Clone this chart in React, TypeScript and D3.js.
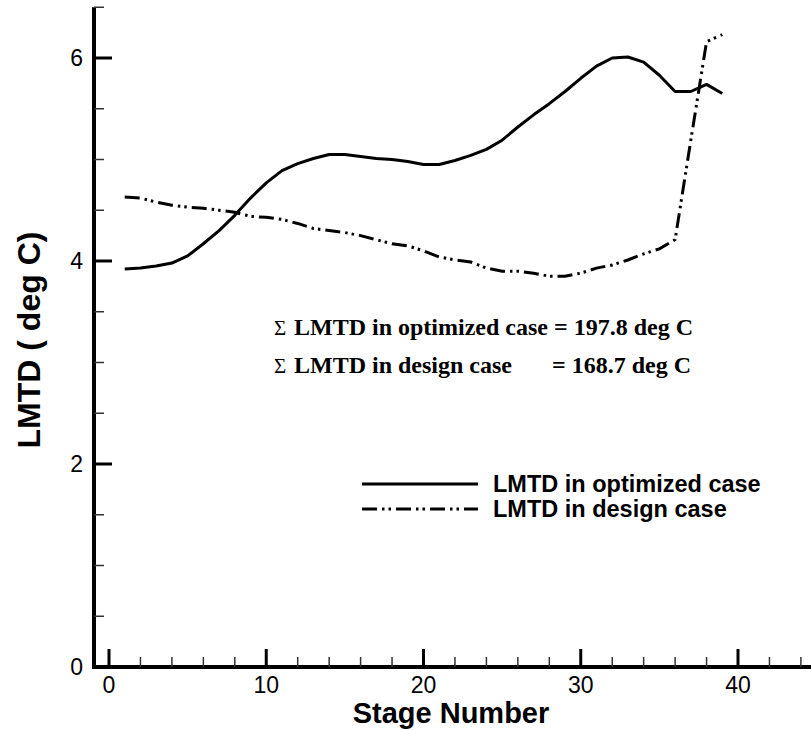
import React from 'react';
import * as d3 from 'd3';

const stages = d3.range(1, 40);
const optimized = [
  3.92, 3.93, 3.95, 3.98, 4.05, 4.17, 4.30, 4.45, 4.62, 4.77,
  4.89, 4.96, 5.01, 5.05, 5.05, 5.03, 5.01, 5.00, 4.98, 4.95,
  4.95, 4.99, 5.04, 5.10, 5.19, 5.32, 5.44, 5.55, 5.67, 5.80,
  5.92, 6.00, 6.01, 5.96, 5.83, 5.67, 5.67, 5.74, 5.65,
];
const design = [
  4.63, 4.62, 4.58, 4.55, 4.53, 4.52, 4.50, 4.48, 4.44, 4.43,
  4.41, 4.37, 4.32, 4.30, 4.28, 4.25, 4.21, 4.17, 4.15, 4.10,
  4.04, 4.01, 3.99, 3.93, 3.90, 3.90, 3.88, 3.85, 3.85, 3.88,
  3.93, 3.96, 4.01, 4.07, 4.12, 4.21, 5.19, 6.16, 6.23,
];
const xMajor = [0, 10, 20, 30, 40];
const yMajor = [0, 2, 4, 6];
const seriesNames = ['LMTD in optimized case', 'LMTD in design case'];
const sumLabels = ['LMTD in optimized case', 'LMTD in design case'];
const sums = ['197.8', '168.7'];

const W = 811;
const H = 730;
const axisX = 94;
const axisY = 667;
const dashDotDot = '15,5,2.5,4,2.5,5';

const App: React.FC = () => {
  const x = d3.scaleLinear().domain([0, 40]).range([109, 738]);
  const y = d3.scaleLinear().domain([0, 6]).range([667, 58]);

  const line = d3.line<number>()
    .x((_, i) => x(stages[i]))
    .y(d => y(d))
    .curve(d3.curveLinear);

  const xMinor = d3.range(0, 46, 2).filter(v => v % 10 !== 0 && x(v) < W);
  const yMinor = d3.range(0.5, 6.6, 0.5).filter(v => v % 2 !== 0);

  const sans = 'Liberation Sans, Arial, sans-serif';
  const serif = 'Liberation Serif, Times New Roman, serif';

  return (
    <svg width={W} height={H} style={{ position: 'absolute', left: 0, top: 0, background: '#fff' }}>
      {/* axes */}
      <line x1={axisX} x2={axisX} y1={y(6.5)} y2={axisY + 2} stroke="#000" strokeWidth={4} />
      <line x1={axisX - 2} x2={W} y1={axisY} y2={axisY} stroke="#000" strokeWidth={4} />

      {yMajor.map(v => (
        <g key={'ym' + v}>
          <line x1={axisX} x2={axisX + 18} y1={y(v)} y2={y(v)} stroke="#000" strokeWidth={3} />
          <text x={83} y={y(v)} dy="0.36em" textAnchor="end" fontFamily={sans} fontSize={23}>{v}</text>
        </g>
      ))}
      {yMinor.map(v => (
        <line key={'yn' + v} x1={axisX} x2={axisX + 10} y1={y(v)} y2={y(v)} stroke="#333" strokeWidth={1.5} />
      ))}
      {xMajor.map(v => (
        <g key={'xm' + v}>
          <line x1={x(v)} x2={x(v)} y1={axisY} y2={axisY - 18} stroke="#000" strokeWidth={3} />
          <text x={x(v)} y={693} textAnchor="middle" fontFamily={sans} fontSize={23}>{v}</text>
        </g>
      ))}
      {xMinor.map(v => (
        <line key={'xn' + v} x1={x(v)} x2={x(v)} y1={axisY} y2={axisY - 10} stroke="#333" strokeWidth={1.5} />
      ))}

      {/* axis titles */}
      <text x={451} y={723} textAnchor="middle" fontFamily={sans} fontWeight="bold" fontSize={29}>Stage Number</text>
      <text transform="translate(40,340) rotate(-90)" textAnchor="middle" fontFamily={sans} fontWeight="bold" fontSize={32}>LMTD ( deg C)</text>

      {/* series */}
      <path d={line(optimized) || ''} fill="none" stroke="#000" strokeWidth={3} strokeLinejoin="round" />
      <path d={line(design) || ''} fill="none" stroke="#000" strokeWidth={3} strokeDasharray={dashDotDot} />

      {/* sums */}
      {sumLabels.map((lab, i) => (
        <g key={lab} fontFamily={serif} fontWeight="bold" fontSize={24}>
          <text x={274} y={335 + i * 38} fontWeight="normal" fontSize={21}>{'\u03A3'}</text>
          {i === 0 ? (
            <text x={294} y={335}>{lab + ' = ' + sums[i] + ' deg C'}</text>
          ) : (
            <>
              <text x={294} y={373}>{lab}</text>
              <text x={552} y={373}>{'= ' + sums[i] + ' deg C'}</text>
            </>
          )}
        </g>
      ))}

      {/* legend */}
      {seriesNames.map((name, i) => (
        <g key={name}>
          <line x1={362} x2={478} y1={484 + i * 25} y2={484 + i * 25} stroke="#000" strokeWidth={3}
            strokeDasharray={i === 1 ? dashDotDot : undefined} />
          <text x={493} y={492 + i * 25} fontFamily={sans} fontWeight="bold" fontSize={23.5}>{name}</text>
        </g>
      ))}
    </svg>
  );
};

export default App;
